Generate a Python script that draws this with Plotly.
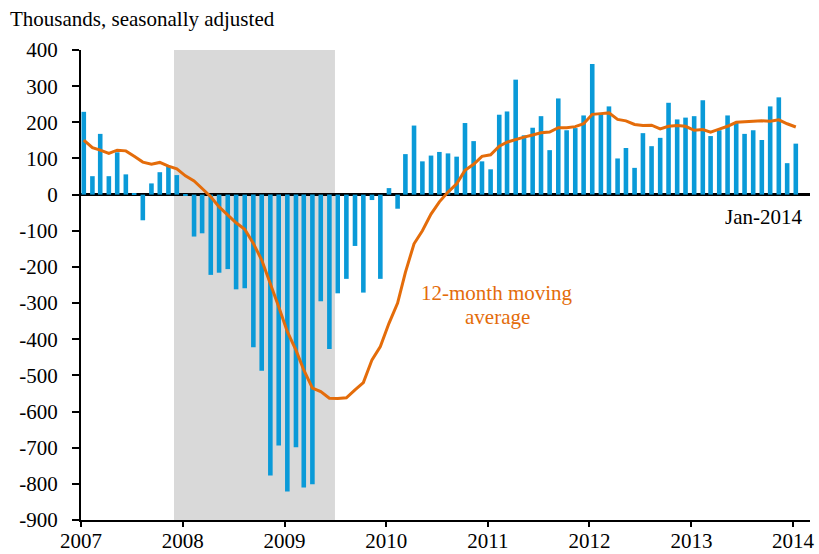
import plotly.graph_objects as go
import pandas as pd

# ---- data ----
months = pd.date_range("2007-01-01", periods=85, freq="MS") + pd.Timedelta(days=10)

monthly_change = [
    229, 51, 168, 51, 117, 56, 2, -71, 31, 62, 79, 54,            # 2007
    -2, -116, -107, -222, -216, -206, -262, -259, -422, -487, -777, -694,  # 2008
    -821, -699, -810, -801, -295, -427, -273, -233, -142, -271, -15, -233,  # 2009
    18, -39, 112, 191, 92, 108, 118, 114, 105, 198, 148, 92,      # 2010
    70, 221, 230, 318, 164, 185, 217, 123, 266, 178, 184, 219,    # 2011
    361, 226, 244, 100, 129, 74, 170, 134, 157, 254, 208, 213,    # 2012
    217, 261, 162, 178, 219, 198, 168, 178, 151, 244, 269, 87,    # 2013
    141,                                                          # 2014
]

moving_avg_12m = [
    151, 130, 123, 114, 123, 121, 106, 90, 84, 89, 79, 71,
    52, 38, 17, -6, -34, -57, -78, -96, -135, -181, -245, -310,
    -379, -430, -485, -535, -545, -563, -564, -562, -540, -520, -457, -420,
    -356, -300, -215, -136, -100, -54, -20, 7, 30, 67, 84, 106,
    110, 134, 145, 153, 159, 165, 171, 173, 185, 185, 188, 196,
    222, 224, 226, 208, 204, 194, 191, 192, 182, 189, 191, 189,
    178, 180, 173, 181, 189, 200, 201, 204, 204, 203, 207, 196,
    187,
]

y_tick_vals = [400, 300, 200, 100, 0, -100, -200, -300, -400, -500, -600, -700, -800, -900]
y_tick_text = ["400", "300", "200", "100", "0", "-100", "-200", "-300", "-400",
               "-500", "-600", "-700", "-800", "-900"]
year_ticks = ["2007-01-01", "2008-01-01", "2009-01-01", "2010-01-01",
              "2011-01-01", "2012-01-01", "2013-01-01", "2014-01-01"]
year_labels = ["2007", "2008", "2009", "2010", "2011", "2012", "2013", "2014"]
recession = ("2007-12-01", "2009-07-01")

FONT = "Liberation Serif"
BLUE = "#0A9AD8"
ORANGE = "#E46C0A"

fig = go.Figure()
fig.add_trace(go.Bar(
    x=months, y=monthly_change,
    width=16.5 * 86400000,
    marker=dict(color=BLUE, line=dict(width=0)),
    hoverinfo="x+y", showlegend=False,
))
fig.add_trace(go.Scatter(
    x=months, y=moving_avg_12m, mode="lines",
    line=dict(color=ORANGE, width=3),
    showlegend=False,
))

fig.add_shape(type="rect", xref="x", yref="y",
              x0=recession[0], x1=recession[1], y0=-900, y1=400,
              fillcolor="#D9D9D9", line=dict(width=0), layer="below")

fig.add_annotation(text="Thousands, seasonally adjusted", xref="paper", yref="paper",
                   x=-0.100, y=1.066, xanchor="left", yanchor="middle",
                   showarrow=False, font=dict(family=FONT, size=21, color="black"))
fig.add_annotation(text="12-month moving", xref="x", yref="y",
                   x="2011-02-03", y=-272, xanchor="center", yanchor="middle",
                   showarrow=False, font=dict(family=FONT, size=21, color=ORANGE))
fig.add_annotation(text="average", xref="x", yref="y",
                   x="2011-02-03", y=-339, xanchor="center", yanchor="middle",
                   showarrow=False, font=dict(family=FONT, size=21, color=ORANGE))
fig.add_annotation(text="Jan-2014", xref="paper", yref="y",
                   x=0.992, y=-62, xanchor="right", yanchor="middle",
                   showarrow=False, font=dict(family=FONT, size=21, color="black"))

fig.update_layout(
    width=819, height=554, autosize=False,
    margin=dict(l=81, r=9, t=50, b=34),
    plot_bgcolor="white", paper_bgcolor="white",
    font=dict(family=FONT, size=21, color="black"),
    bargap=0.45,
    xaxis=dict(
        type="date", range=["2007-01-01", "2014-03-03"],
        tickvals=year_ticks, ticktext=year_labels,
        ticks="outside", ticklen=5, tickwidth=1.5, tickcolor="black",
        ticklabelstandoff=-4,
        showline=True, linecolor="black", linewidth=2,
        showgrid=False, zeroline=False, automargin=False,
        tickfont=dict(family=FONT, size=21, color="black"),
    ),
    yaxis=dict(
        range=[-900, 400],
        tickvals=y_tick_vals, ticktext=y_tick_text,
        ticks="outside", ticklen=7, tickwidth=1.5, tickcolor="black",
        ticklabelstandoff=10,
        showline=True, linecolor="black", linewidth=2,
        showgrid=False, automargin=False,
        zeroline=True, zerolinecolor="black", zerolinewidth=2.5,
        tickfont=dict(family=FONT, size=21, color="black"),
    ),
)

fig.write_html("out.html", config={"displayModeBar": False},
               post_script="document.body.style.margin='0px';")
